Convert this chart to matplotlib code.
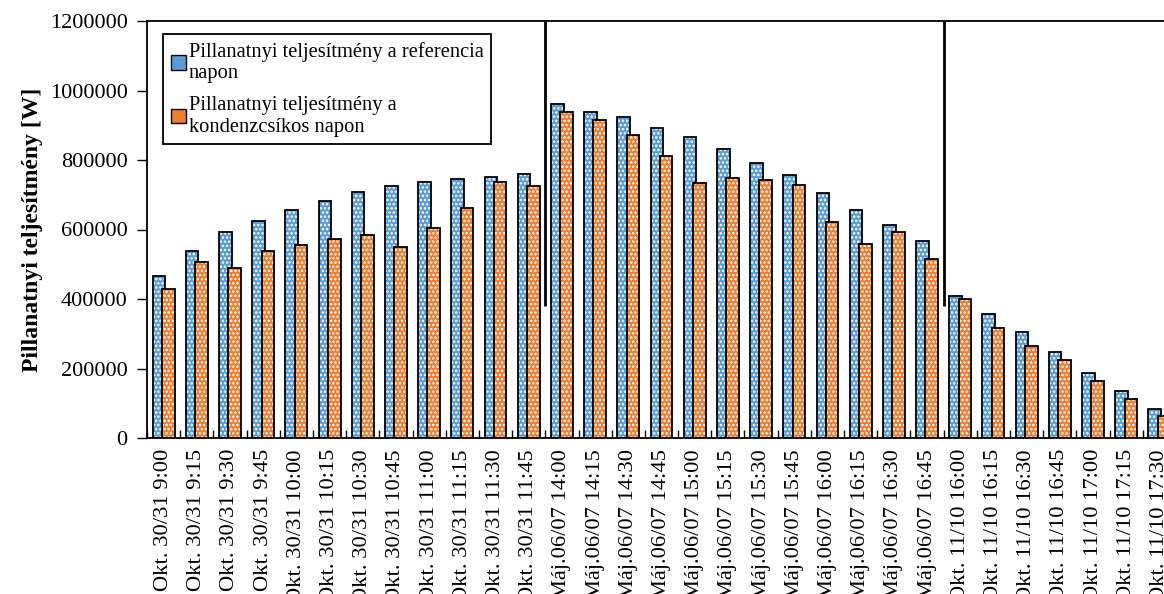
import numpy as np
import matplotlib
matplotlib.use('Agg')
import matplotlib.pyplot as plt
from matplotlib.patches import Patch
from matplotlib.ticker import FuncFormatter

plt.rcParams['font.family'] = ['Liberation Serif', 'DejaVu Serif']
plt.rcParams['hatch.linewidth'] = 1.2

labels = [
    'Okt. 30/31 9:00', 'Okt. 30/31 9:15', 'Okt. 30/31 9:30', 'Okt. 30/31 9:45',
    'Okt. 30/31 10:00', 'Okt. 30/31 10:15', 'Okt. 30/31 10:30', 'Okt. 30/31 10:45',
    'Okt. 30/31 11:00', 'Okt. 30/31 11:15', 'Okt. 30/31 11:30', 'Okt. 30/31 11:45',
    'Máj.06/07 14:00', 'Máj.06/07 14:15', 'Máj.06/07 14:30', 'Máj.06/07 14:45',
    'Máj.06/07 15:00', 'Máj.06/07 15:15', 'Máj.06/07 15:30', 'Máj.06/07 15:45',
    'Máj.06/07 16:00', 'Máj.06/07 16:15', 'Máj.06/07 16:30', 'Máj.06/07 16:45',
    'Okt. 11/10 16:00', 'Okt. 11/10 16:15', 'Okt. 11/10 16:30', 'Okt. 11/10 16:45',
    'Okt. 11/10 17:00', 'Okt. 11/10 17:15', 'Okt. 11/10 17:30',
]

# referencia nap
referencia = [466000, 539000, 593000, 624000, 656000, 682000, 708000, 725000,
              737000, 745000, 751000, 759000,
              960000, 939000, 923000, 893000, 865000, 831000, 790000, 758000,
              705000, 656000, 612000, 568000,
              408000, 357000, 304000, 247000, 186000, 135000, 83000]

# kondenzcsíkos nap
kondenzcsikos = [429000, 507000, 488000, 537000, 556000, 573000, 584000, 550000,
                 604000, 662000, 737000, 726000,
                 937000, 916000, 872000, 811000, 733000, 748000, 742000, 729000,
                 621000, 557000, 593000, 515000,
                 400000, 316000, 265000, 224000, 165000, 112000, 63000]

blue = '#5b9bd5'
orange = '#ed7d31'

fig = plt.figure(figsize=(11.64, 5.94), dpi=100)
ax = fig.add_axes([147 / 1164, 156 / 594, 1029 / 1164, 417 / 594])

x = np.arange(len(labels))
w = 0.38
off = 0.14

# kitöltés pöttyös mintával, majd fekete keret
ax.bar(x - off, referencia, w, color=blue, edgecolor='white', hatch='....', linewidth=0, zorder=2)
ax.bar(x - off, referencia, w, fill=False, edgecolor='black', linewidth=1.3, zorder=3)
ax.bar(x + off, kondenzcsikos, w, color=orange, edgecolor='white', hatch='....', linewidth=0, zorder=4)
ax.bar(x + off, kondenzcsikos, w, fill=False, edgecolor='black', linewidth=1.3, zorder=5)

# napok határai
ax.vlines([11.5, 23.5], 380000, 1200000, color='black', linewidth=2, zorder=6)

ax.set_xlim(-0.5, len(labels) - 0.5)
ax.set_ylim(0, 1200000)
ax.set_yticks(np.arange(0, 1200001, 200000))
ax.yaxis.set_major_formatter(FuncFormatter(lambda v, p: f'{int(v)}'))
ax.tick_params(axis='y', labelsize=16, direction='out', length=7, width=1, pad=7)

ax.set_xticks(x)
ax.set_xticklabels(labels, rotation=90, fontsize=16.2)
ax.tick_params(axis='x', which='major', length=0, pad=8)
ax.set_xticks(np.arange(-0.5, len(labels), 1), minor=True)
ax.tick_params(axis='x', which='minor', direction='in', length=6, width=1)

for s in ax.spines.values():
    s.set_linewidth(1.3)

ax.set_ylabel('Pillanatnyi teljesítmény [W]', fontsize=17, fontweight='bold', labelpad=5)

handles = [
    Patch(facecolor=blue, edgecolor='black', linewidth=1),
    Patch(facecolor=orange, edgecolor='black', linewidth=1),
]
leg = ax.legend(handles,
                ['Pillanatnyi teljesítmény a referencia\nnapon',
                 'Pillanatnyi teljesítmény a\nkondenzcsíkos napon'],
                loc='upper left', bbox_to_anchor=(0.0155, 0.969), borderaxespad=0,
                fontsize=14.8, handlelength=0.72, handleheight=0.72, handletextpad=0.15,
                labelspacing=0.6, borderpad=0.38, fancybox=False, framealpha=1,
                edgecolor='black')
leg.get_frame().set_linewidth(1.3)

plt.savefig('out.png', dpi=100)
